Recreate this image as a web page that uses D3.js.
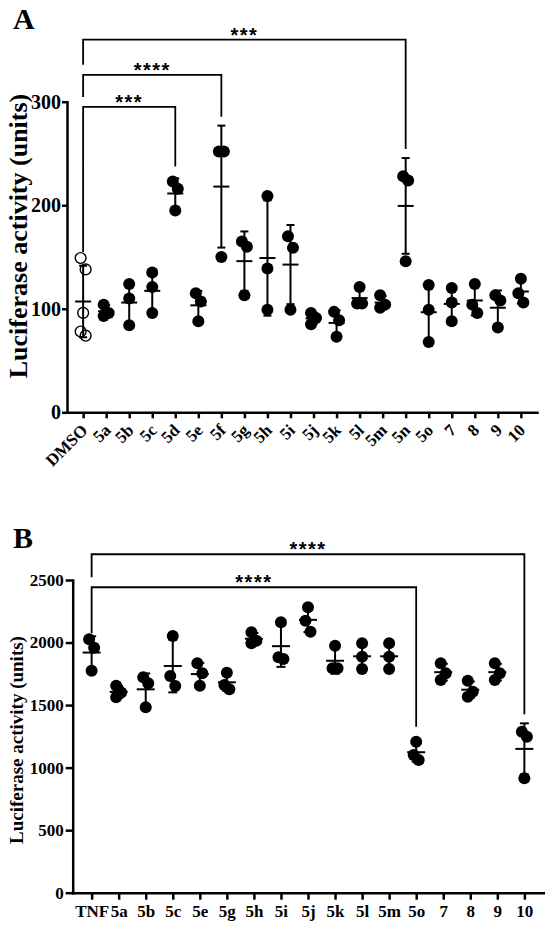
<!DOCTYPE html>
<html>
<head>
<meta charset="utf-8">
<script src="https://cdn.jsdelivr.net/npm/d3@7/dist/d3.min.js"></script>
<style>
  body { margin: 0; background: #fff; }
  text { font-family: "Liberation Serif", "Times New Roman", serif; font-weight: bold; fill: #000; }
  .stars { font-family: "Liberation Sans", Arial, sans-serif; }
</style>
</head>
<body>
<svg id="chart" width="550" height="928"></svg>
<script>
// panel A: NF-kB luciferase, basal
var catsA = ["DMSO", "5a", "5b", "5c", "5d", "5e", "5f", "5g", "5h", "5i",
             "5j", "5k", "5l", "5m", "5n", "5o", "7", "8", "9", "10"];
var valuesA = [
    [149, 138, 96, 78, 74],
    [104, 96, 93],
    [124, 110, 84],
    [135, 121, 96],
    [223, 216, 195],
    [115, 107, 88],
    [252, 252, 150],
    [165, 160, 113],
    [209, 139, 99],
    [170, 159, 99],
    [96, 91, 85],
    [97, 89, 73],
    [121, 105, 105],
    [113, 104, 101],
    [228, 224, 146],
    [123, 99, 68],
    [120, 106, 88],
    [124, 104, 96],
    [113, 108, 82],
    [129, 115, 106]
];
var ticksA = [0, 100, 200, 300];
var openA = ["DMSO"];
var bracketsA = [
    { from: "DMSO", to: "5d", level: 295, label: "***" },
    { from: "DMSO", to: "5f", level: 326, label: "****" },
    { from: "DMSO", to: "5n", level: 360, label: "***" }
];

// panel B: TNF stimulated
var catsB = ["TNF", "5a", "5b", "5c", "5e", "5g", "5h", "5i", "5j",
             "5k", "5l", "5m", "5o", "7", "8", "9", "10"];
var valuesB = [
    [2026, 1959, 1775],
    [1655, 1600, 1562],
    [1722, 1674, 1482],
    [2052, 1733, 1653],
    [1834, 1754, 1655],
    [1759, 1661, 1626],
    [2082, 2015, 1994],
    [2162, 1882, 1869],
    [2282, 2175, 2087],
    [1975, 1794, 1794],
    [1994, 1887, 1789],
    [1994, 1887, 1789],
    [1207, 1101, 1061],
    [1834, 1754, 1701],
    [1695, 1607, 1567],
    [1834, 1754, 1701],
    [1287, 1247, 915]
];
var ticksB = [0, 500, 1000, 1500, 2000, 2500];
var bracketsB = [
    { from: "TNF", to: "5o", level: 2442, label: "****" },
    { from: "TNF", to: "10", level: 2706, label: "****" }
];

var svg = d3.select("#chart");
var r = 6;

function jitter(ys) {
    var off = ys.map(() => 0);
    var order = d3.range(ys.length).sort((a, b) => ys[a] - ys[b]);
    var side = -1;
    order.forEach(i => {
        var close = order.some(j => j !== i && Math.abs(ys[j] - ys[i]) < 2 * r);
        if (close) { off[i] = side * 2.5; side = -side; }
    });
    return off;
}

function panel(opt) {
    var g = svg.append("g");
    var x = d3.scalePoint().domain(opt.cats).range(opt.xRange).padding(0.7);
    var y = d3.scaleLinear().domain(opt.yDomain).range(opt.yRange);

    // axes
    var yAxis = g.append("g")
        .attr("transform", "translate(" + opt.xRange[0] + ",0)")
        .call(d3.axisLeft(y).tickValues(opt.ticks).tickFormat(d3.format("d"))
            .tickSize(opt.yTick).tickPadding(opt.yPad).tickSizeOuter(0));
    yAxis.selectAll("text").style("font-size", opt.yFont + "px");

    var xAxis = g.append("g")
        .attr("transform", "translate(0," + opt.yRange[0] + ")")
        .call(d3.axisBottom(x).tickSize(opt.xTick).tickPadding(5).tickSizeOuter(0));
    xAxis.selectAll("text").style("font-size", "17px");
    if (opt.rotate) {
        xAxis.selectAll("text")
            .attr("text-anchor", "end")
            .attr("dy", null)
            .attr("y", null)
            .attr("transform", "translate(5,19) rotate(-45)");
    }
    g.selectAll(".domain, .tick line").attr("stroke", "#000").attr("stroke-width", 2.5);
    g.selectAll(".domain").attr("stroke-linecap", "square");

    // axis title
    g.append("text")
        .attr("transform", "translate(" + opt.titleX + "," + opt.titleY + ") rotate(-90)")
        .attr("text-anchor", "middle")
        .style("font-size", opt.titleFont + "px")
        .text("Luciferase activity (units)");

    // panel letter
    g.append("text")
        .attr("x", 13).attr("y", opt.letterY)
        .style("font-size", "30px")
        .text(opt.letter);

    var stats = opt.values.map(v => ({ mean: d3.mean(v), sd: d3.deviation(v) }));

    // points
    opt.cats.forEach((c, i) => {
        var v = opt.values[i];
        var ys = v.map(d => y(d));
        var off = jitter(ys);
        var open = opt.open && opt.open.indexOf(c) >= 0;
        g.selectAll(null)
            .data(v)
            .enter().append("circle")
            .attr("cx", (d, k) => x(c) + off[k])
            .attr("cy", d => y(d))
            .attr("r", open ? r - 0.6 : r)
            .attr("fill", open ? "none" : "#000")
            .attr("stroke", "#000")
            .attr("stroke-width", open ? 1.4 : 0);
    });

    // mean +/- SD
    var eb = g.append("g").attr("stroke", "#000").attr("stroke-width", 2);
    opt.cats.forEach((c, i) => {
        var s = stats[i], cx = x(c);
        eb.append("line").attr("x1", cx).attr("x2", cx).attr("y1", y(s.mean - s.sd)).attr("y2", y(s.mean + s.sd));
        [s.mean - s.sd, s.mean + s.sd].forEach(v => {
            eb.append("line").attr("x1", cx - opt.cap / 2).attr("x2", cx + opt.cap / 2).attr("y1", y(v)).attr("y2", y(v));
        });
        eb.append("line").attr("x1", cx - opt.meanW / 2).attr("x2", cx + opt.meanW / 2).attr("y1", y(s.mean)).attr("y2", y(s.mean));
    });

    // significance brackets
    var levels = opt.brackets.map(b => b.level).sort(d3.ascending);
    opt.brackets.forEach(b => {
        var i0 = opt.cats.indexOf(b.from), i1 = opt.cats.indexOf(b.to);
        var x0 = x(b.from), x1 = x(b.to), yl = y(b.level);
        var k = levels.indexOf(b.level);
        var yLeft = k === 0 ? y(d3.max(opt.values[i0])) - r : y(levels[k - 1]) - 10;
        var top1 = Math.min(y(stats[i1].mean + stats[i1].sd), y(d3.max(opt.values[i1])) - r);
        var yRight = top1 - 9;
        g.append("path")
            .attr("d", "M" + x0 + "," + yLeft + "V" + yl + "H" + x1 + "V" + yRight)
            .attr("fill", "none").attr("stroke", "#000").attr("stroke-width", 1.8);
        g.append("text").attr("class", "stars")
            .attr("x", (x0 + x1) / 2).attr("y", yl + 2)
            .attr("text-anchor", "middle")
            .style("font-size", "20px")
            .style("letter-spacing", "1.5px")
            .text(b.label);
    });
}

panel({
    cats: catsA, values: valuesA, ticks: ticksA, open: openA, brackets: bracketsA,
    xRange: [67, 537], yDomain: [0, 300], yRange: [412.3, 101.7],
    yTick: 5, yPad: 1, yFont: 20, xTick: 6, rotate: true,
    titleX: 26.5, titleY: 236, titleFont: 26,
    letter: "A", letterY: 29, cap: 8, meanW: 16
});

panel({
    cats: catsB, values: valuesB, ticks: ticksB, brackets: bracketsB,
    xRange: [72.7, 543.3], yDomain: [0, 2500], yRange: [892.7, 580],
    yTick: 7, yPad: 2, yFont: 17, xTick: 7, rotate: false,
    titleX: 23, titleY: 740, titleFont: 19,
    letter: "B", letterY: 548, cap: 9, meanW: 18
});
</script>
</body>
</html>
